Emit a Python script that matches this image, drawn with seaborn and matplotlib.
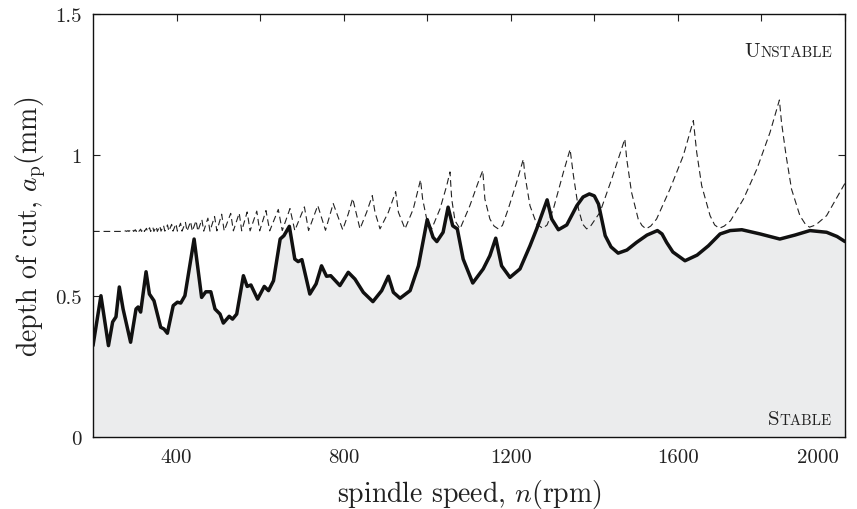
import matplotlib
matplotlib.use('Agg')
import matplotlib.pyplot as plt
from matplotlib.transforms import ScaledTranslation
import seaborn as sns
import pandas as pd

# ---- data ----
stable_rpm = [200, 219, 237, 247, 255, 263, 272, 281, 290, 303,
              308, 314, 327, 335, 346, 362, 370, 378, 392, 402,
              410, 420, 442, 460, 470, 482, 492, 504, 512, 526,
              534, 544, 560, 569, 578, 594, 610, 620, 632, 648,
              657, 670, 683, 691, 700, 719, 734, 747, 759, 769,
              791, 811, 827, 847, 870, 891, 907, 919, 935, 959,
              979, 1000, 1014, 1023, 1038, 1050, 1061, 1072, 1086, 1109,
              1134, 1150, 1164, 1178, 1198, 1222, 1246, 1262, 1287, 1298,
              1314, 1334, 1358, 1373, 1388, 1400, 1410, 1426, 1440, 1457,
              1478, 1501, 1526, 1551, 1562, 1573, 1588, 1617, 1646, 1673,
              1701, 1725, 1753, 1797, 1844, 1880, 1916, 1956, 1981, 2000]
stable_depth = [0.324, 0.501, 0.324, 0.408, 0.426, 0.532, 0.454, 0.395, 0.336, 0.454,
                0.461, 0.443, 0.586, 0.507, 0.483, 0.389, 0.383, 0.368, 0.466, 0.478,
                0.475, 0.501, 0.702, 0.495, 0.515, 0.515, 0.454, 0.436, 0.404, 0.428,
                0.418, 0.436, 0.572, 0.534, 0.539, 0.489, 0.534, 0.519, 0.554, 0.702,
                0.714, 0.747, 0.631, 0.622, 0.629, 0.507, 0.543, 0.607, 0.570, 0.572,
                0.537, 0.584, 0.560, 0.513, 0.480, 0.519, 0.570, 0.513, 0.492, 0.519,
                0.607, 0.771, 0.708, 0.693, 0.726, 0.815, 0.749, 0.738, 0.631, 0.546,
                0.596, 0.643, 0.705, 0.607, 0.566, 0.596, 0.678, 0.738, 0.841, 0.773,
                0.735, 0.752, 0.820, 0.851, 0.862, 0.855, 0.826, 0.714, 0.674, 0.652,
                0.663, 0.690, 0.716, 0.732, 0.720, 0.690, 0.656, 0.625, 0.645, 0.678,
                0.720, 0.732, 0.735, 0.720, 0.702, 0.716, 0.732, 0.726, 0.711, 0.693]

lobe_rpm = [200, 272,
            278.6, 280.4, 284, 285.8, 289.5, 291.3, 295.3, 297.2, 301.3, 303.3,
            307.6, 309.7, 314.1, 316, 320.9, 323, 328, 330.3, 335.4, 338,
            343.2, 345.8, 351.3, 354, 359.9, 362.8, 368.8, 372, 378.3, 381.5,
            388.2, 391.5, 398.6, 402, 409.6, 413, 421.3, 425, 433.6, 437.7,
            446.7, 451, 460.6, 465, 475, 480, 491, 496.5, 508, 514,
            529.6, 536, 550, 556, 569, 576, 592, 599, 614, 623,
            643.5, 653, 671.5, 683, 706, 716, 738, 756.5, 775, 797.7,
            811, 821.6, 839,
            855, 868.5, 875, 887,
            907, 924.5, 931, 946.8,
            966.7, 984, 989, 998.7, 1010.7,
            1030.6, 1046.6, 1054.5, 1058.6, 1066.5, 1078.5,
            1102, 1122, 1133, 1138, 1150, 1160, 1170, 1180,
            1194, 1214, 1230, 1234, 1246, 1262, 1276.4, 1287,
            1302, 1326, 1342, 1350, 1362, 1372, 1381.7, 1392,
            1413.6, 1441.6, 1473, 1477.5, 1489, 1505, 1514, 1523.6, 1535,
            1549, 1581, 1613, 1637, 1645, 1657, 1677, 1688, 1699, 1711,
            1726, 1757, 1789, 1820.5, 1843, 1848, 1859, 1872, 1892, 1905, 1915, 1930,
            1956, 2000]
lobe_depth = [0.729, 0.729,
              0.731, 0.729, 0.732, 0.729, 0.733, 0.729, 0.734, 0.729, 0.735, 0.729,
              0.736, 0.729, 0.737, 0.729, 0.738, 0.729, 0.740, 0.729, 0.742, 0.729,
              0.744, 0.729, 0.746, 0.729, 0.748, 0.730, 0.750, 0.730, 0.752, 0.730,
              0.754, 0.730, 0.756, 0.730, 0.758, 0.730, 0.761, 0.730, 0.764, 0.730,
              0.767, 0.730, 0.771, 0.730, 0.776, 0.730, 0.782, 0.731, 0.790, 0.731,
              0.793, 0.731, 0.794, 0.731, 0.798, 0.731, 0.801, 0.731, 0.803, 0.731,
              0.807, 0.732, 0.810, 0.732, 0.816, 0.732, 0.821, 0.733, 0.828, 0.735,
              0.791, 0.846, 0.738,
              0.797, 0.856, 0.797, 0.738,
              0.797, 0.870, 0.797, 0.738,
              0.809, 0.912, 0.844, 0.773, 0.738,
              0.809, 0.891, 0.940, 0.844, 0.767, 0.738,
              0.820, 0.903, 0.945, 0.844, 0.773, 0.748, 0.738, 0.750,
              0.809, 0.903, 0.985, 0.927, 0.820, 0.755, 0.740, 0.752,
              0.809, 0.939, 1.020, 0.927, 0.809, 0.755, 0.738, 0.750,
              0.797, 0.915, 1.057, 0.986, 0.868, 0.773, 0.750, 0.738, 0.748,
              0.773, 0.879, 0.998, 1.122, 1.010, 0.891, 0.785, 0.752, 0.740, 0.748,
              0.767, 0.844, 0.950, 1.080, 1.195, 1.116, 0.998, 0.879, 0.785, 0.755, 0.744, 0.752,
              0.785, 0.900]

xtick_vals = [400, 600, 800, 1000, 1200, 1400, 1600, 1800, 2000]
xtick_labels = ['400', '', '800', '', '1200', '', '1600', '', '2000']
ytick_vals = [0, 0.5, 1, 1.5]
ytick_labels = ['0', '0.5', '1', '1.5']

# ---- style ----
sns.set_theme(style='ticks')
plt.rcParams['font.family'] = ['cmr10']
plt.rcParams['mathtext.fontset'] = 'cm'
plt.rcParams['axes.formatter.use_mathtext'] = True
plt.rcParams['axes.unicode_minus'] = False

fig = plt.figure(figsize=(8.57, 5.10), dpi=100)
ax = fig.add_axes([93 / 857, 72 / 510, 752 / 857, 423 / 510])

df_s = pd.DataFrame({'rpm': stable_rpm, 'depth': stable_depth})
df_l = pd.DataFrame({'rpm': lobe_rpm, 'depth': lobe_depth})

ax.fill_between(df_s['rpm'], 0, df_s['depth'], color='#ebeced', lw=0, zorder=1)
sns.lineplot(data=df_l, x='rpm', y='depth', ax=ax, color='#222222', lw=0.8,
             linestyle=(0, (6, 3.5)), estimator=None, sort=False, zorder=2)
sns.lineplot(data=df_s, x='rpm', y='depth', ax=ax, color='#111111', lw=2.5,
             estimator=None, sort=False, zorder=3,
             solid_joinstyle='round', solid_capstyle='round')

ax.set_xlim(200, 2000)
ax.set_ylim(0, 1.5)
ax.set_xticks(xtick_vals)
ax.set_xticklabels(xtick_labels)
ax.set_yticks(ytick_vals)
ax.set_yticklabels(ytick_labels)
ax.tick_params(direction='in', length=5, width=0.8, top=True, right=True,
               labelsize=15, colors='#222222', pad=8)
for s in ax.spines.values():
    s.set_color('#111111')
    s.set_linewidth(1.0)

lbls = ax.get_xticklabels()
lbls[-1].set_transform(lbls[-1].get_transform() +
                       ScaledTranslation(-0.27, 0, fig.dpi_scale_trans))

ax.set_xlabel('spindle speed, $n$(rpm)', fontsize=20, color='#222222', labelpad=8)
ax.set_ylabel(r'depth of cut, $a_\mathrm{p}$(mm)', fontsize=20, color='#222222', labelpad=5)

# small-caps labels
fig.canvas.draw()
r = fig.canvas.get_renderer()
for word, yfrac in (('UNSTABLE', 0.9014), ('STABLE', 0.0307)):
    rest = ax.annotate(word[1:], xy=(1, yfrac), xycoords='axes fraction',
                       xytext=(-13, 0), textcoords='offset pixels',
                       ha='right', va='baseline', fontsize=10.8, color='#222222')
    bb = rest.get_window_extent(renderer=r)
    ax.annotate(word[0], xy=(bb.x0, yfrac), xycoords=('figure pixels', 'axes fraction'),
                ha='right', va='baseline', fontsize=15, color='#222222')

fig.savefig('out.png', dpi=100)
